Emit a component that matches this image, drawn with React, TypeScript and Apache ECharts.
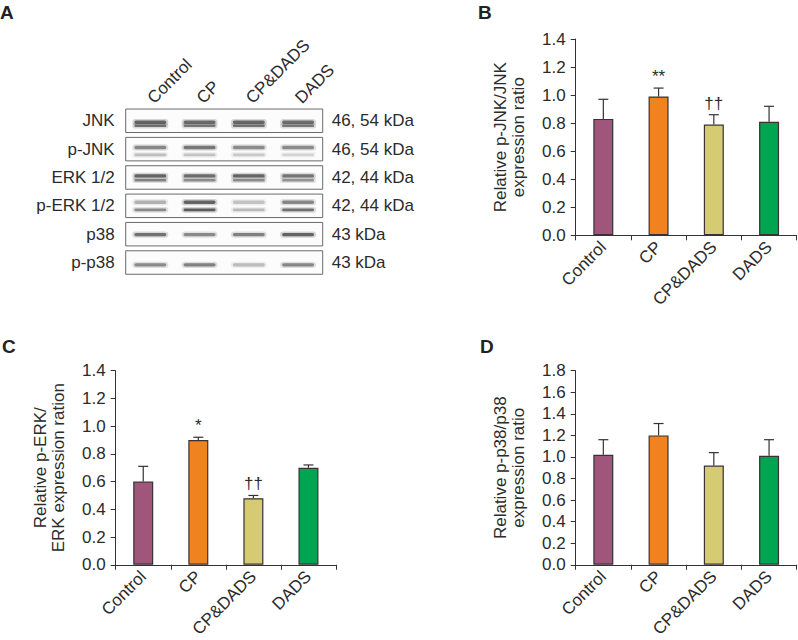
import React, { useEffect, useRef } from "react";
import * as echarts from "echarts";

const groups = ["Control", "CP", "CP&DADS", "DADS"];
const groupColors = ["#A0557A", "#F0821F", "#D5CB72", "#00A551"];

// Panel A: western blot
const blotRows = ["JNK", "p-JNK", "ERK 1/2", "p-ERK 1/2", "p38", "p-p38"];
const blotMass = ["46, 54 kDa", "46, 54 kDa", "42, 44 kDa", "42, 44 kDa", "43 kDa", "43 kDa"];
const bandUpper = [
  [0.85, 0.8, 0.82, 0.78],
  [0.62, 0.72, 0.58, 0.6],
  [0.85, 0.78, 0.84, 0.74],
  [0.38, 0.85, 0.28, 0.62],
  [0.75, 0.6, 0.65, 0.85],
  [0.6, 0.65, 0.32, 0.62],
];
const bandLower = [
  [0.75, 0.7, 0.74, 0.7],
  [0.3, 0.28, 0.24, 0.2],
  [0.65, 0.6, 0.6, 0.55],
  [0.6, 0.9, 0.33, 0.75],
  [0, 0, 0, 0],
  [0, 0, 0, 0],
];

// Panel B
const jnkValues = [0.83, 0.99, 0.79, 0.81];
const jnkErrors = [0.14, 0.06, 0.07, 0.11];
const jnkMarks = ["", "**", "††", ""];
// Panel C
const erkValues = [0.6, 0.9, 0.48, 0.7];
const erkErrors = [0.11, 0.02, 0.02, 0.02];
const erkMarks = ["", "*", "††", ""];
// Panel D
const p38Values = [1.02, 1.2, 0.92, 1.01];
const p38Errors = [0.14, 0.11, 0.12, 0.15];
const p38Marks = ["", "", "", ""];

const FONT = "'Liberation Sans', Arial, Helvetica, sans-serif";
const TXT = "#2b2b2b";

// vertical offsets of bands within each blot strip (style)
const bandOffsets = [
  [1.5, 5],
  [-1.6, 5.7],
  [-1.6, 2.7],
  [-3.6, 4],
  [0.4, 0],
  [2.3, 0],
];

function App() {
  const ref = useRef<HTMLDivElement>(null);
  useEffect(() => {
    if (!ref.current) return;
    const chart = echarts.init(ref.current, undefined, { renderer: "svg" });

    const grids = [
      { left: 125.7, top: 106.6, width: 197, height: 170.1 },
      { left: 575.7, top: 39, width: 221, height: 196.3 },
      { left: 115.7, top: 370.7, width: 220.3, height: 196 },
      { left: 575.7, top: 370.7, width: 221, height: 196 },
    ];

    const panels = [
      { vals: jnkValues, errs: jnkErrors, marks: jnkMarks, max: 1.4, name: "Relative p-JNK/JNK\nexpression ratio" },
      { vals: erkValues, errs: erkErrors, marks: erkMarks, max: 1.4, name: "Relative p-ERK/\nERK expression ration" },
      { vals: p38Values, errs: p38Errors, marks: p38Marks, max: 1.8, name: "Relative p-p38/p38\nexpression ratio" },
    ];

    const xAxes: any[] = [
      {
        type: "category",
        gridIndex: 0,
        data: groups,
        position: "top",
        axisLine: { show: false },
        axisTick: { show: false },
        axisLabel: { rotate: -45, fontSize: 17, color: TXT, fontFamily: FONT, margin: 6 },
      },
    ];
    const yAxes: any[] = [
      {
        type: "category",
        gridIndex: 0,
        data: blotRows,
        inverse: true,
        axisLine: { show: false },
        axisTick: { show: false },
        axisLabel: { fontSize: 17, color: TXT, fontFamily: FONT, margin: 11 },
      },
      {
        type: "category",
        gridIndex: 0,
        data: blotMass,
        inverse: true,
        position: "right",
        axisLine: { show: false },
        axisTick: { show: false },
        axisLabel: { fontSize: 17, color: TXT, fontFamily: FONT, margin: 9 },
      },
    ];

    const series: any[] = [
      {
        type: "custom",
        xAxisIndex: 0,
        yAxisIndex: 0,
        data: blotRows.map((_, i) => [0, i]),
        renderItem: (params: any, api: any) => {
          const row = params.dataIndex;
          const cs = params.coordSys;
          const c = api.coord([0, row]);
          const cy = c[1];
          const children: any[] = [
            {
              type: "rect",
              shape: { x: cs.x, y: cy - 11.75, width: cs.width, height: 23.5 },
              style: { fill: "#fcfcfc", stroke: "#6a6a6a", lineWidth: 1 },
            },
          ];
          groups.forEach((_, lane) => {
            const p = api.coord([lane, row]);
            const up = bandUpper[row][lane];
            const lo = bandLower[row][lane];
            const bands = [
              [up, bandOffsets[row][0], 3.4],
              [lo, bandOffsets[row][1], 2.6],
            ];
            bands.forEach(([inten, off, h]) => {
              if (!inten) return;
              const a = (inten as number) * 0.85;
              const hh = h as number;
              const yc = cy + (off as number);
              // soft halo
              children.push({
                type: "rect",
                shape: { x: p[0] - 18, y: yc - hh / 2 - 1.5, width: 36, height: hh + 3, r: (hh + 3) / 2 },
                style: { fill: `rgba(70,70,70,${a * 0.3})` },
              });
              children.push({
                type: "rect",
                shape: { x: p[0] - 16, y: yc - hh / 2, width: 32, height: hh, r: hh / 2 },
                style: { fill: `rgba(55,55,55,${a})` },
              });
            });
          });
          return { type: "group", children };
        },
        z: 2,
      },
    ];

    panels.forEach((pn, k) => {
      const gi = k + 1;
      xAxes.push({
        type: "category",
        gridIndex: gi,
        data: groups,
        axisLine: { lineStyle: { color: "#333", width: 1 } },
        axisTick: { show: true, length: 5, lineStyle: { color: "#333" } },
        axisLabel: { rotate: 45, fontSize: 17, color: TXT, fontFamily: FONT, margin: 9, interval: 0 },
      });
      yAxes.push({
        type: "value",
        gridIndex: gi,
        min: 0,
        max: pn.max,
        interval: 0.2,
        splitLine: { show: false },
        axisLine: { show: true, lineStyle: { color: "#333", width: 1 } },
        axisTick: { show: true, length: 5, lineStyle: { color: "#333" } },
        axisLabel: {
          fontSize: 17,
          color: TXT,
          fontFamily: FONT,
          margin: 10,
          formatter: (v: number) => v.toFixed(1),
        },
        name: pn.name,
        nameLocation: "middle",
        nameGap: 48,
        nameTextStyle: { fontSize: 17, color: TXT, fontFamily: FONT, lineHeight: 18 },
      });
      const axIdx = xAxes.length - 1;
      const ayIdx = yAxes.length - 1;
      series.push({
        type: "bar",
        xAxisIndex: axIdx,
        yAxisIndex: ayIdx,
        barWidth: 20,
        data: pn.vals.map((v, i) => ({
          value: v,
          itemStyle: { color: groupColors[i], borderColor: "#3a3035", borderWidth: 1.2 },
        })),
        z: 2,
      });
      series.push({
        type: "custom",
        xAxisIndex: axIdx,
        yAxisIndex: ayIdx,
        data: pn.vals.map((v, i) => [i, v, pn.errs[i]]),
        renderItem: (params: any, api: any) => {
          const i = api.value(0);
          const v = api.value(1);
          const e = api.value(2);
          const p0 = api.coord([i, v]);
          const p1 = api.coord([i, v + e]);
          const children: any[] = [
            { type: "line", shape: { x1: p0[0], y1: p0[1], x2: p1[0], y2: p1[1] }, style: { stroke: "#333", lineWidth: 1.2 } },
            { type: "line", shape: { x1: p1[0] - 5, y1: p1[1], x2: p1[0] + 5, y2: p1[1] }, style: { stroke: "#333", lineWidth: 1.2 } },
          ];
          const m = pn.marks[params.dataIndex];
          if (m) {
            children.push({
              type: "text",
              style: {
                x: p1[0],
                y: p1[1] - 3,
                text: m,
                fill: TXT,
                fontSize: 17,
                fontFamily: FONT,
                align: "center",
                verticalAlign: "bottom",
              },
            });
          }
          return { type: "group", children };
        },
        z: 3,
      });
    });

    const panelLabel = (text: string, left: number, top: number) => ({
      text,
      left,
      top,
      padding: 0,
      textStyle: { fontSize: 19, fontWeight: "bold", color: "#222", fontFamily: FONT },
    });

    chart.setOption({
      animation: false,
      backgroundColor: "#ffffff",
      title: [
        panelLabel("A", 0, 3),
        panelLabel("B", 478, 3),
        panelLabel("C", 2, 337),
        panelLabel("D", 480, 337),
      ],
      grid: grids,
      xAxis: xAxes,
      yAxis: yAxes,
      series,
    });
    return () => chart.dispose();
  }, []);
  return (
    <div
      ref={ref}
      style={{ position: "fixed", left: 0, top: 0, width: 798, height: 640, background: "#fff" }}
    />
  );
}

export default App;
